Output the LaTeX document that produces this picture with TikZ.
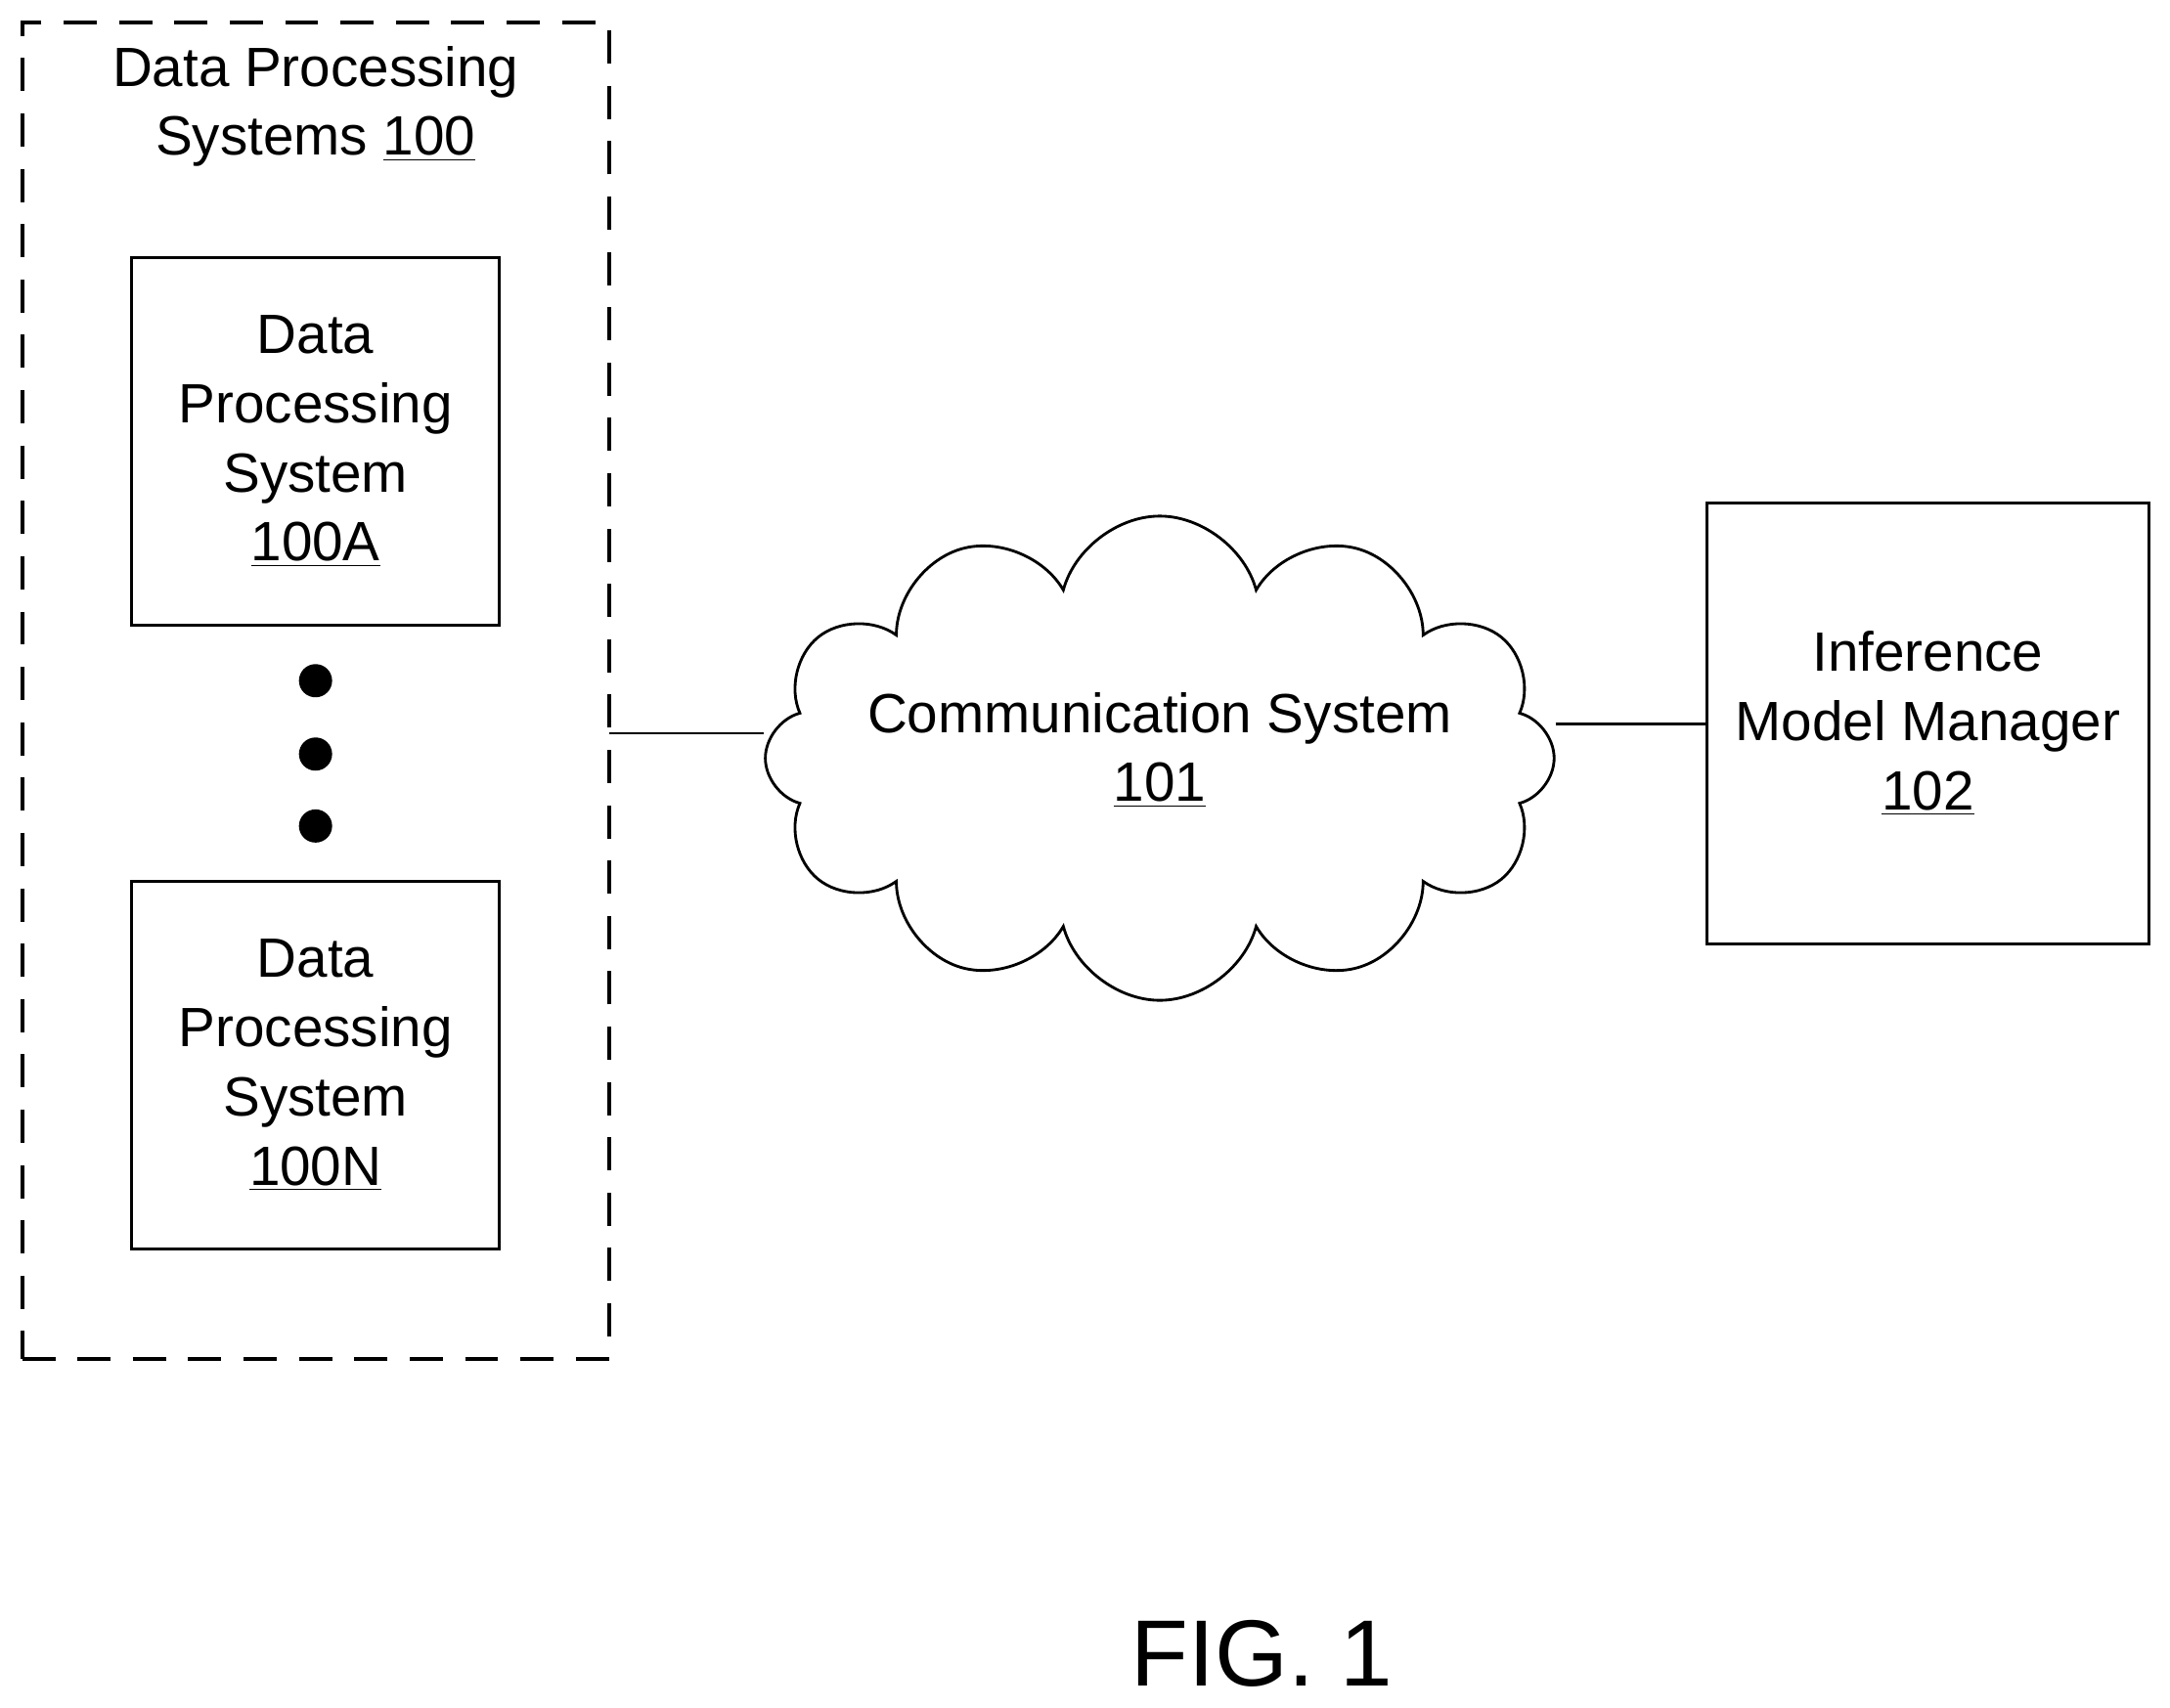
\documentclass[tikz,border=0pt]{standalone}
\usepackage{fontspec}
\setmainfont{Liberation Sans}
\usetikzlibrary{shapes.symbols}
\begin{document}
\begin{tikzpicture}[x=0.5pt,y=-0.5pt,
  box/.style={draw,line width=1pt,inner sep=0pt},
  lbl/.style={font=\fontsize{20}{25}\selectfont,align=center},
  dot/.style={circle,fill,inner sep=0pt,minimum size=12pt}]
\useasboundingbox (0,0) rectangle (1568,1234);
\node[box,dashed,dash pattern=on 12pt off 8pt,line width=1.5pt,minimum width=212pt,minimum height=483pt] (dps) at (228,499) {};
\node[lbl] (dpst) at (228,77) {Data Processing\\Systems \underline{100}};
\node[box,minimum width=133pt,minimum height=133pt] (a) at (228,319) {};
\node[lbl] at (a) {Data\\Processing\\System\\\underline{100A}};
\node[dot] (d1) at (228,492) {};
\node[dot] (d2) at (228,545) {};
\node[dot] (d3) at (228,597) {};
\node[box,minimum width=133pt,minimum height=133pt] (n) at (228,770) {};
\node[lbl] at (n) {Data\\Processing\\System\\\underline{100N}};
\node[cloud,draw,line width=1pt,cloud puffs=12,aspect=1.6,minimum width=285pt,minimum height=175pt] (cs) at (838,548) {};
\node[lbl] at (838,542) {Communication System\\\underline{101}};
\node[box,minimum width=159.5pt,minimum height=159.5pt] (imm) at (1393,523) {};
\node[lbl] at (imm) {Inference\\Model Manager\\\underline{102}};
\coordinate (l1) at (440,530);
\draw[line width=1pt] (l1) -- (cs.west |- l1);
\draw[line width=1pt] (cs.east |- imm.west) -- (imm.west);
\node[font=\fontsize{34}{40}\selectfont] (fig) at (912,1195) {FIG. 1};
\end{tikzpicture}
\end{document}
